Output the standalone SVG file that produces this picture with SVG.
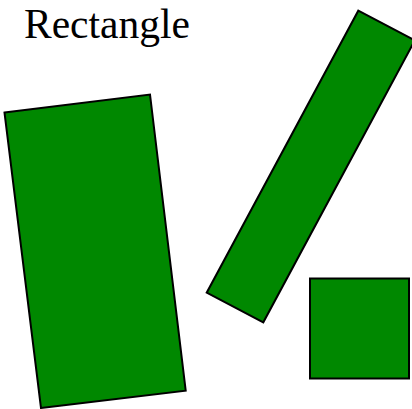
<svg xmlns="http://www.w3.org/2000/svg" width="412" height="409" viewBox="0 0 412 409">
<style>
.shape{fill:#008800;stroke:#000;stroke-width:2;stroke-linejoin:miter}
.title{font-family:"Liberation Serif","Times New Roman",serif;font-size:41.5px;fill:#000}
</style>
<rect width="412" height="409" fill="#fff"/>
<text class="title" x="24" y="38">Rectangle</text>
<g id="rect1"><polygon class="shape" points="4.5,112.5 150,94.5 185.7,390.7 41,408"/></g>
<g id="rect2"><polygon class="shape" points="358.3,10.7 414.9,40.3 263.3,322.3 206.7,292.7"/></g>
<g id="rect3"><rect class="shape" x="310" y="278.5" width="99" height="100"/></g>
</svg>
